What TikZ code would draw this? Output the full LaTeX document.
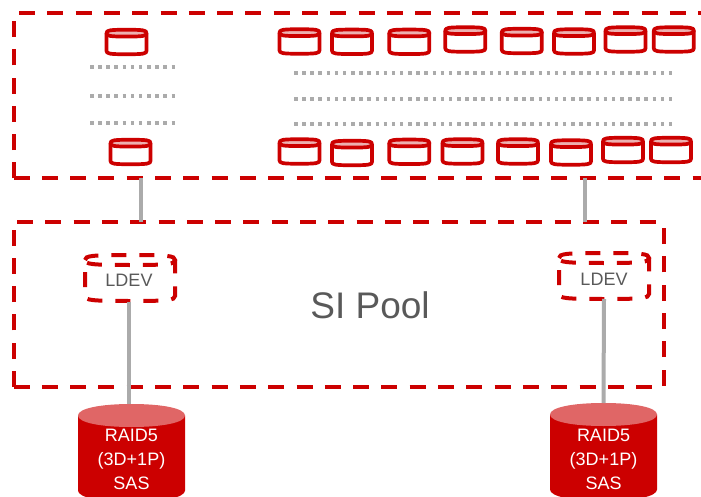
\documentclass[tikz,border=0pt]{standalone}
\usepackage{fontspec}
\setmainfont{Liberation Sans}
\definecolor{hred}{HTML}{CC0000}
\definecolor{hlight}{HTML}{E06666}
\definecolor{hpale}{HTML}{EDB0B0}
\definecolor{hgrey}{HTML}{ABABAB}
\definecolor{htext}{HTML}{595959}
\tikzset{
  px/.style={x=1pt,y=-1pt},
  dashbox/.style={draw=hred,line width=4pt,dash pattern=on 16pt off 12.3pt},
  dotline/.style={draw=hgrey,line width=3.5pt,dash pattern=on 3.5pt off 4.65pt},
  link/.style={draw=hgrey,line width=4pt},
  holder/.style={inner sep=0pt,outer sep=0pt,draw=none},
  drumline/.style={draw=hred,line width=3.7pt,line join=round},
  ldevline/.style={draw=hred,line width=4pt,dash pattern=on 15pt off 13pt},
  ldevlabel/.style={text=htext,font=\fontsize{18}{20}\selectfont,inner sep=0pt},
  raidlabel/.style={text=white,align=center,font=\fontsize{18}{24}\selectfont,inner sep=0pt},
  poollabel/.style={text=htext,font=\fontsize{37}{40}\selectfont,inner sep=0pt}
}
% name, cx, cy, width, height, end radius, squareness, body style, top style
\newcommand{\drumat}[9]{%
  \node[holder,minimum width=#4pt,minimum height=#5pt] (#1) at (#2,#3) {};
  \pgfmathsetmacro{\dL}{#2-#4/2}\pgfmathsetmacro{\dR}{#2+#4/2}
  \pgfmathsetmacro{\dT}{#3-#5/2}\pgfmathsetmacro{\dB}{#3+#5/2}
  \pgfmathsetmacro{\dTm}{\dT+#6}\pgfmathsetmacro{\dBm}{\dB-#6}\pgfmathsetmacro{\dTb}{\dT+2*#6}
  \pgfmathsetmacro{\dcl}{#2-#7*#4/2}\pgfmathsetmacro{\dcr}{#2+#7*#4/2}
  \pgfmathsetmacro{\dup}{\dTm-#7*#6}\pgfmathsetmacro{\ddn}{\dTm+#7*#6}\pgfmathsetmacro{\dbb}{\dBm+#7*#6}
  \path[#8] (\dL,\dTm) -- (\dL,\dBm) .. controls (\dL,\dbb) and (\dcl,\dB) .. (#2,\dB)
     .. controls (\dcr,\dB) and (\dR,\dbb) .. (\dR,\dBm) -- (\dR,\dTm);
  \path[#9] (\dL,\dTm) .. controls (\dL,\dup) and (\dcl,\dT) .. (#2,\dT)
     .. controls (\dcr,\dT) and (\dR,\dup) .. (\dR,\dTm)
     .. controls (\dR,\ddn) and (\dcr,\dTb) .. (#2,\dTb)
     .. controls (\dcl,\dTb) and (\dL,\ddn) .. cycle;
}
\begin{document}
\begin{tikzpicture}[px]
\useasboundingbox (0,0) rectangle (701,497);
\clip (0,0) rectangle (701,497);
% outer dashed frame
\coordinate (oa) at (13.5,178.5);
\coordinate (ob) at (13.5,20);
\coordinate (oc) at (19,13.5);
\coordinate (od) at (705,13.5);
\coordinate (oe) at (705,178.5);
\path[dashbox] (oa) -- (ob);
\path[dashbox] (oc) -- (od);
\path[dashbox] (oa) -- (oe);
% pool dashed frame
\coordinate (pa) at (13.5,387);
\coordinate (pb) at (13.5,229);
\coordinate (pc) at (17,221.5);
\coordinate (pd) at (657,221.5);
\coordinate (pe) at (663.5,227);
\coordinate (pf) at (663.5,385.5);
\coordinate (pg) at (655,387);
\path[dashbox] (pa) -- (pb);
\path[dashbox] (pc) -- (pd);
\path[dashbox] (pf) -- (pe);
\path[dashbox] (pa) -- (pg);
% dotted rows
\foreach \n/\xa/\ya/\xb/\yb in {a/90/67/176/67,b/90/96/176/96,c/90/123/176/123,
  d/294/73/675/73,e/294/99/675/99,f/294/124/675/124}{
  \coordinate (dot\n s) at (\xa,\ya);
  \coordinate (dot\n e) at (\xb,\yb);
  \path[dotline] (dot\n s) -- (dot\n e);
}
% small drums
\foreach \n/\cx/\cy in {l1/126.5/42,l2/130.5/152,
  t1/299.5/41.5,t2/352/41.8,t3/409.3/41.8,t4/465.3/39.5,t5/521.8/41,t6/574/41.5,t7/625.5/39.5,t8/673.8/39.5,
  b1/299.5/151.5,b2/352/153,b3/409.3/151.8,b4/462.5/151.5,b5/518/151.5,b6/571/152.5,b7/623/150,b8/671/150}{
  \drumat{d\n}{\cx}{\cy}{40}{24.5}{3.4}{0.85}{drumline}{drumline,fill=hpale}
}
% LDEV drums
\drumat{ldevl}{130}{278}{90}{46}{5}{0.85}{ldevline,dash phase=16pt}{ldevline}
\drumat{ldevr}{604}{276}{90}{46}{5}{0.85}{ldevline,dash phase=16pt}{ldevline}
\node[ldevlabel] (ldevltext) at (129,280.5) {LDEV};
\node[ldevlabel] (ldevrtext) at (604,279.5) {LDEV};
\node[poollabel] (pool) at (370,305) {SI Pool};
% RAID drums
\drumat{raidl}{131.5}{453}{107}{98}{11.5}{0.6}{draw=none,fill=hred}{draw=none,fill=hlight}
\drumat{raidr}{603.5}{452}{107}{98}{11.5}{0.6}{draw=none,fill=hred}{draw=none,fill=hlight}
\node[raidlabel] (raidltext) at (131.5,459.5) {RAID5\\(3D+1P)\\SAS};
\node[raidlabel] (raidrtext) at (603.5,459.5) {RAID5\\(3D+1P)\\SAS};
% connectors
\coordinate (ou1) at (141,178.5);
\coordinate (pu1) at (141,221.5);
\coordinate (ou2) at (585,178.5);
\coordinate (pu2) at (585,221.5);
\coordinate (ll) at (129.3,302);
\path[link] (ou1) -- (pu1);
\path[link] (ou2) -- (pu2);
\path[link] (ll) -- (ll |- raidl.north);
\path[link] (ldevr.south) -- (raidr.north);
\end{tikzpicture}
\end{document}
